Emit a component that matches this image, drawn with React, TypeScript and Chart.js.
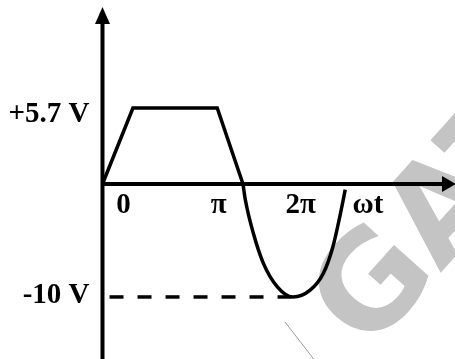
import React, { useEffect, useRef } from "react";
import { Chart, registerables } from "chart.js";

Chart.register(...registerables);

// ωt expressed in degrees (schematic, not to scale)
const trapezoidX = [0, 39, 147, 180];
const trapezoidY = [0, 5.7, 5.7, 0];

const negHalfX = [180, 183, 193, 206, 224, 244, 266, 283, 295, 304, 311];
const negHalfY = [0, -1.4, -4.3, -7.0, -9.1, -10, -9.4, -7.9, -5.6, -2.9, -0.5];

const guideX = [9, 244];
const guideY = [-10, -10];

const xTickLabels = ["0", "π", "2π", "ωt"];
const xTickPositions = [27, 149, 254, 340];

const yLevelLabels = ["+5.7 V", "-10 V"];
const yLevelValues = [5.7, -10];
const yLevelAxes = ["yPos", "yNeg"];
const yLevelBaselineOffsets = [14, 6.3];

const watermarkText = "GATE";

const FONT = 'bold 29px "Liberation Serif", "Times New Roman", serif';

const decorPlugin = {
  id: "decor",
  beforeDatasetsDraw(chart: any) {
    const { ctx, chartArea, scales } = chart;
    const x0 = scales.x.getPixelForValue(0);
    const y0 = scales.yPos.getPixelForValue(0);
    // watermark
    ctx.save();
    ctx.fillStyle = "#c4c4c4";
    ctx.font = 'bold 132px "DejaVu Sans", sans-serif';
    ctx.translate(368, 354);
    ctx.rotate(-0.84);
    ctx.textAlign = "left";
    ctx.textBaseline = "alphabetic";
    ctx.fillText(watermarkText, 0, 0);
    ctx.restore();
    ctx.save();
    ctx.strokeStyle = "#9a9a9a";
    ctx.lineWidth = 1;
    ctx.beginPath();
    ctx.moveTo(285, 322);
    ctx.lineTo(316, 362);
    ctx.stroke();
    ctx.restore();

    // axes
    ctx.save();
    ctx.strokeStyle = "#000";
    ctx.fillStyle = "#000";
    ctx.lineWidth = 4;
    ctx.beginPath();
    ctx.moveTo(x0, chartArea.bottom + 2);
    ctx.lineTo(x0, chartArea.top + 20);
    ctx.moveTo(x0 - 2, y0);
    ctx.lineTo(chartArea.right - 12, y0);
    ctx.stroke();
    // arrow up
    ctx.beginPath();
    ctx.moveTo(x0, chartArea.top + 7);
    ctx.lineTo(x0 - 7.5, chartArea.top + 24);
    ctx.lineTo(x0 + 7.5, chartArea.top + 24);
    ctx.closePath();
    ctx.fill();
    // arrow right
    ctx.beginPath();
    ctx.moveTo(chartArea.right + 1, y0);
    ctx.lineTo(chartArea.right - 13, y0 - 8);
    ctx.lineTo(chartArea.right - 13, y0 + 8);
    ctx.closePath();
    ctx.fill();
    ctx.restore();
  },
  afterDatasetsDraw(chart: any) {
    const { ctx, scales } = chart;
    const y0 = scales.yPos.getPixelForValue(0);
    const x0 = scales.x.getPixelForValue(0);
    ctx.save();
    ctx.fillStyle = "#000";
    ctx.font = FONT;
    ctx.textBaseline = "alphabetic";
    ctx.textAlign = "center";
    xTickLabels.forEach((t, i) => {
      ctx.fillText(t, scales.x.getPixelForValue(xTickPositions[i]), y0 + 28.5);
    });
    ctx.textAlign = "right";
    yLevelLabels.forEach((t, i) => {
      const py = scales[yLevelAxes[i]].getPixelForValue(yLevelValues[i]);
      ctx.fillText(t, x0 - 13, py + yLevelBaselineOffsets[i]);
    });
    ctx.restore();
  },
};

export default function App() {
  const ref = useRef<HTMLCanvasElement | null>(null);
  useEffect(() => {
    if (!ref.current) return;
    const toPts = (xs: number[], ys: number[]) => xs.map((x, i) => ({ x, y: ys[i] }));
    const chart = new Chart(ref.current, {
      type: "line",
      data: {
        datasets: [
          {
            data: toPts(trapezoidX, trapezoidY),
            yAxisID: "yPos",
            borderColor: "#000",
            borderWidth: 3.5,
            pointRadius: 0,
            tension: 0,
            borderJoinStyle: "miter",
          },
          {
            data: toPts(negHalfX, negHalfY),
            yAxisID: "yNeg",
            borderColor: "#000",
            borderWidth: 3.5,
            pointRadius: 0,
            cubicInterpolationMode: "monotone",
          },
          {
            data: toPts(guideX, guideY),
            yAxisID: "yNeg",
            borderColor: "#000",
            borderWidth: 3.5,
            borderDash: [14, 14],
            pointRadius: 0,
            tension: 0,
          },
        ],
      } as any,
      options: {
        responsive: false,
        animation: false,
        events: [],
        layout: { padding: 0 },
        plugins: { legend: { display: false }, tooltip: { enabled: false } },
        scales: {
          x: { type: "linear", min: -131.3, max: 451.6, display: false },
          yPos: { type: "linear", min: -13.125, max: 13.8, display: false },
          yNeg: { type: "linear", min: -15.49, max: 16.28, display: false },
        },
      } as any,
      plugins: [decorPlugin],
    });
    return () => chart.destroy();
  }, []);
  return (
    <div style={{ position: "fixed", left: 0, top: 0, width: 455, height: 359, background: "#fff" }}>
      <canvas ref={ref} width={455} height={359} style={{ display: "block" }} />
    </div>
  );
}
